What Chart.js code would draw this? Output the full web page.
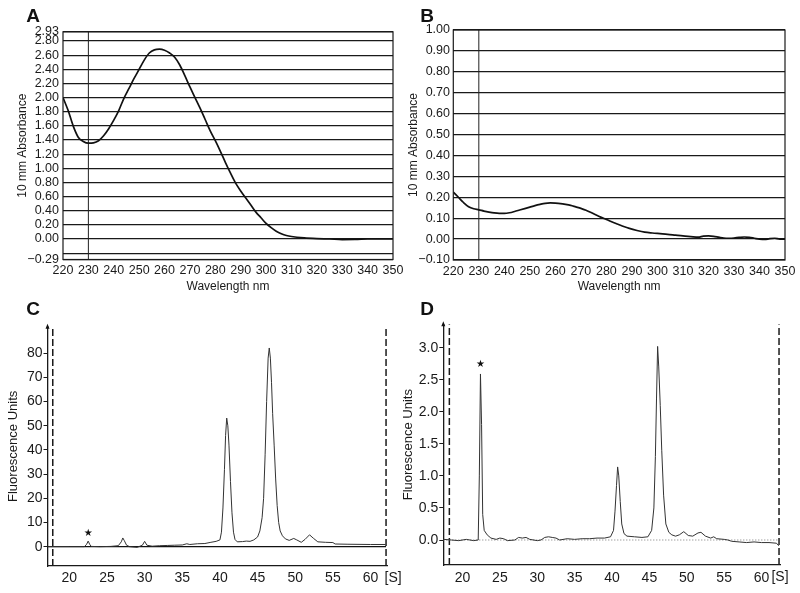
<!DOCTYPE html>
<html>
<head>
<meta charset="utf-8">
<script src="https://cdn.jsdelivr.net/npm/chart.js@4.4.1/dist/chart.umd.min.js"></script>
<style>
  html, body { margin: 0; padding: 0; background: #fff; }
  body { width: 800px; height: 593px; position: relative; overflow: hidden; }
  .panel { position: absolute; }
</style>
</head>
<body>
<div class="panel" style="left:0;top:0;width:415px;height:300px"><canvas id="chartA"></canvas></div>
<div class="panel" style="left:400px;top:0;width:400px;height:300px"><canvas id="chartB"></canvas></div>
<div class="panel" style="left:0;top:290px;width:410px;height:303px"><canvas id="chartC"></canvas></div>
<div class="panel" style="left:400px;top:290px;width:400px;height:303px"><canvas id="chartD"></canvas></div>
<script>
// spectra (A, B)
const wavelengthA = [220, 222, 224, 226, 228, 230, 232, 234, 236, 238, 240, 242, 244, 246, 248, 250, 252, 254, 256, 258,
  260, 262, 264, 266, 268, 270, 272, 274, 276, 278, 280, 282, 284, 286, 288, 290, 292, 294, 296, 298,
  300, 302, 304, 306, 308, 310, 315, 320, 325, 330, 335, 340, 345, 350];
const absorbanceA = [2.00, 1.82, 1.60, 1.44, 1.38, 1.355, 1.36, 1.39, 1.46, 1.56, 1.68, 1.82, 1.99, 2.13, 2.27, 2.40, 2.53, 2.63, 2.675, 2.685,
  2.67, 2.63, 2.57, 2.46, 2.31, 2.15, 2.00, 1.85, 1.69, 1.53, 1.39, 1.24, 1.08, 0.93, 0.79, 0.68, 0.58, 0.48, 0.38, 0.30,
  0.22, 0.16, 0.11, 0.075, 0.05, 0.035, 0.015, 0.005, 0.0, -0.008, -0.006, 0.0, 0.002, 0.0];

const wavelengthB = [220, 222, 224, 226, 228, 230, 232, 234, 236, 238, 240, 242, 244, 246, 248, 250, 252, 254, 256, 258,
  260, 262, 264, 266, 268, 270, 272, 274, 276, 278, 280, 283, 286, 289, 292, 295, 298, 301, 304, 307,
  310, 313, 316, 318, 320, 322, 324, 326, 328, 330, 332, 334, 336, 338, 340, 342, 344, 346, 348, 350];
const absorbanceB = [0.225, 0.20, 0.175, 0.155, 0.145, 0.14, 0.134, 0.129, 0.125, 0.123, 0.123, 0.126, 0.132, 0.139, 0.146, 0.153, 0.160, 0.166, 0.171, 0.173,
  0.172, 0.170, 0.166, 0.161, 0.154, 0.147, 0.138, 0.127, 0.115, 0.104, 0.094, 0.078, 0.064, 0.051, 0.041, 0.033, 0.029, 0.026, 0.023, 0.019,
  0.015, 0.012, 0.009, 0.014, 0.015, 0.013, 0.009, 0.005, 0.004, 0.005, 0.008, 0.010, 0.008, 0.004, 0.000, -0.002, 0.002, 0.004, 0.0, 0.0];

// electropherograms (C, D)
const timeC = [17.2, 20, 22.0, 22.3, 22.5, 22.7, 22.9, 24, 25.5, 26.5, 26.9, 27.1, 27.3, 27.6, 28, 29, 29.7, 30.0, 30.3, 31,
  32, 33, 34, 35, 35.6, 36, 37, 38, 38.8, 39.5, 40.0, 40.2, 40.4, 40.6, 40.75, 40.9, 41.05, 41.2, 41.4, 41.6,
  41.8, 42.0, 42.3, 43, 43.5, 44, 44.5, 45, 45.3, 45.6, 45.8, 46.0, 46.2, 46.4, 46.55, 46.7, 46.85, 47.0, 47.2, 47.4,
  47.6, 47.8, 48.0, 48.3, 48.7, 49.2, 49.8, 50.2, 50.8, 51.3, 51.9, 52.4, 53.0, 54, 55, 55.3, 57, 60, 62];
const fluorC = [0.0, 0.0, 0.0, 1.0, 2.3, 1.0, 0.1, 0.0, 0.1, 0.4, 2.0, 3.6, 2.5, 0.6, 0.0, -0.3, 0.6, 2.2, 0.6, 0.2,
  0.4, 0.5, 0.6, 0.7, 1.2, 0.9, 1.2, 1.3, 1.8, 2.2, 2.8, 6, 16, 32, 46, 53.2, 50, 42, 27, 14,
  6, 3, 2, 2.1, 2.3, 2.2, 2.8, 4, 6.5, 12, 20, 38, 60, 78, 82.2, 78, 68, 55, 42, 28,
  17, 10, 6.5, 4.5, 3.2, 2.6, 3.4, 2.8, 1.8, 3.0, 4.9, 3.5, 2.0, 1.8, 1.7, 1.1, 1.0, 0.9, 0.9];

const timeD = [17.5, 18.5, 19.5, 20.5, 21, 21.5, 22.1, 22.25, 22.4, 22.55, 22.7, 22.9, 23.3, 23.8, 24.5, 25, 25.5, 26, 27, 27.5,
  28, 28.5, 29, 30, 30.5, 31, 31.5, 32, 32.5, 33, 34, 35, 36, 37, 38, 39, 39.8, 40.2, 40.4, 40.6,
  40.75, 40.9, 41.1, 41.3, 41.6, 42, 43, 44, 44.8, 45.3, 45.6, 45.8, 45.95, 46.1, 46.25, 46.45, 46.65, 46.9, 47.2, 47.6,
  48, 48.5, 49.0, 49.6, 50.2, 50.8, 51.5, 51.9, 52.5, 53.2, 53.6, 54, 55, 55.5, 56, 57, 58, 59, 60, 61, 62, 62.3];
const fluorD = [0.01, 0.0, -0.01, 0.01, 0.0, -0.01, 0.0, 1.0, 2.59, 1.8, 0.4, 0.15, 0.08, 0.03, 0.01, 0.03, 0.02, -0.01, 0.0, 0.04,
  0.03, 0.04, 0.01, -0.01, 0.0, 0.04, 0.05, 0.04, 0.03, 0.0, 0.02, 0.01, 0.02, 0.02, 0.03, 0.03, 0.05, 0.15, 0.45, 0.85,
  1.14, 1.0, 0.6, 0.25, 0.1, 0.06, 0.05, 0.04, 0.05, 0.15, 0.5, 1.3, 2.2, 3.02, 2.7, 2.1, 1.4, 0.7, 0.25, 0.12,
  0.08, 0.06, 0.08, 0.13, 0.07, 0.06, 0.11, 0.12, 0.06, 0.03, 0.05, 0.02, 0.01, 0.0, -0.02, -0.03, -0.04, -0.03, -0.04, -0.04, -0.05, -0.09];

// ticks and markers
const xTicksAB = [220, 230, 240, 250, 260, 270, 280, 290, 300, 310, 320, 330, 340, 350];
const yTicksA = [-0.29, -0.2, 0, 0.2, 0.4, 0.6, 0.8, 1.0, 1.2, 1.4, 1.6, 1.8, 2.0, 2.2, 2.4, 2.6, 2.8, 2.93];
const yTicksB = [-0.1, 0, 0.1, 0.2, 0.3, 0.4, 0.5, 0.6, 0.7, 0.8, 0.9, 1.0];
const xTicksCD = [20, 25, 30, 35, 40, 45, 50, 55, 60];
const yTicksC = [0, 10, 20, 30, 40, 50, 60, 70, 80];
const yTicksD = [0, 0.5, 1.0, 1.5, 2.0, 2.5, 3.0];
const refWavelength = 230;
const markersC = [17.8, 62.06];
const markersD = [18.24, 62.34];
const starC = [22.5, 5.6];
const starD = [22.4, 2.74];

const FONT = '"Liberation Sans", Arial, Helvetica, sans-serif';
Chart.defaults.font.family = FONT;
Chart.defaults.color = '#1a1a1a';

const pts = (xs, ys) => xs.map((x, i) => ({ x: x, y: ys[i] }));
const vline = (x, y0, y1) => [{ x: x, y: y0 }, { x: x, y: y1 }];

const frame = {
  id: 'frame',
  afterDatasetsDraw(chart) {
    const a = chart.chartArea, ctx = chart.ctx;
    ctx.save();
    ctx.strokeStyle = '#1a1a1a';
    ctx.lineWidth = 1.2;
    ctx.strokeRect(a.left, a.top, a.right - a.left, a.bottom - a.top);
    ctx.restore();
  }
};

function letter(text, x, y) {
  return {
    id: 'letter',
    afterDraw(chart) {
      const ctx = chart.ctx;
      ctx.save();
      ctx.font = 'bold 19px ' + FONT;
      ctx.fillStyle = '#111';
      ctx.textAlign = 'center';
      ctx.textBaseline = 'middle';
      ctx.fillText(text, x, y);
      ctx.restore();
    }
  };
}

// arrow on the y axis, star over the marker peak, unit label after the last x tick
function axisExtras(star, unitDx) {
  return {
    id: 'axisExtras',
    afterDraw(chart) {
      const ctx = chart.ctx, a = chart.chartArea;
      const sx = chart.scales.x, sy = chart.scales.y;
      ctx.save();
      ctx.fillStyle = '#111';
      ctx.beginPath();
      ctx.moveTo(a.left, a.top - 3);
      ctx.lineTo(a.left - 2, a.top + 2);
      ctx.lineTo(a.left + 2, a.top + 2);
      ctx.closePath();
      ctx.fill();
      ctx.font = '10px "DejaVu Sans", sans-serif';
      ctx.textAlign = 'center';
      ctx.textBaseline = 'middle';
      ctx.fillText('\u2605', sx.getPixelForValue(star[0]), sy.getPixelForValue(star[1]));
      ctx.font = '14px ' + FONT;
      ctx.fillStyle = '#1a1a1a';
      ctx.fillText('[S]', a.right + unitDx, a.bottom + 12.5);
      ctx.restore();
    }
  };
}

const fmt2 = v => (v < 0 ? '\u2212' : '') + Math.abs(v).toFixed(2);

function spectrum(id, name, xs, ys, yMin, yMax, yTicks, box) {
  return new Chart(document.getElementById(id), {
    type: 'line',
    data: {
      datasets: [
        { data: pts(xs, ys), borderColor: '#111', borderWidth: 1.7, pointRadius: 0, cubicInterpolationMode: 'monotone' },
        { data: vline(refWavelength, yMin, yMax), borderColor: '#222', borderWidth: 1, pointRadius: 0 }
      ]
    },
    options: {
      responsive: true,
      maintainAspectRatio: false,
      animation: false,
      events: [],
      layout: { padding: { top: box.top, right: box.right, left: 0, bottom: 0 } },
      plugins: { legend: { display: false }, tooltip: { enabled: false } },
      scales: {
        x: {
          type: 'linear', min: 220, max: 350,
          afterBuildTicks: s => { s.ticks = xTicksAB.map(v => ({ value: v })); },
          afterFit: s => { s.height = box.xh; },
          grid: { display: false, drawTicks: false },
          border: { display: false },
          ticks: { font: { size: 12.5 }, padding: 4, maxRotation: 0, autoSkip: false },
          title: { display: true, text: 'Wavelength nm', font: { size: 12 }, padding: { top: 0, bottom: 5.8 } }
        },
        y: {
          min: yMin, max: yMax,
          afterBuildTicks: s => { s.ticks = yTicks.map(v => ({ value: v })); },
          afterFit: s => { s.width = box.yw; },
          grid: { color: '#1a1a1a', lineWidth: 1.2, drawTicks: false },
          border: { display: false },
          ticks: {
            font: { size: 12.5 }, padding: box.tp, autoSkip: false,
            callback: v => (Math.abs(v + 0.2) < 1e-9 && yMin < -0.2) ? '' : fmt2(v)
          },
          title: { display: true, text: '10 mm Absorbance', font: { size: 12 }, padding: { top: box.tt, bottom: 0 } }
        }
      }
    },
    plugins: [frame, letter(name, box.lx, box.ly)]
  });
}

function electropherogram(id, name, xs, ys, c) {
  return new Chart(document.getElementById(id), {
    type: 'line',
    data: {
      datasets: [
        { data: pts(xs, ys), borderColor: '#333', borderWidth: 1, pointRadius: 0, tension: 0 },
        { data: [{ x: c.xMin, y: 0 }, { x: c.markers[1], y: 0 }], borderColor: c.zeroColor, borderWidth: c.zeroWidth, borderDash: c.zeroDash, pointRadius: 0 },
        { data: vline(c.markers[0], c.yMin, c.yMax), borderColor: '#1a1a1a', borderWidth: 1.5, borderDash: [7, 3], pointRadius: 0 },
        { data: vline(c.markers[1], c.yMin, c.yMax), borderColor: '#1a1a1a', borderWidth: 1.5, borderDash: [7, 3], pointRadius: 0 }
      ]
    },
    options: {
      responsive: true,
      maintainAspectRatio: false,
      animation: false,
      events: [],
      layout: { padding: { top: c.top, right: c.right, left: 0, bottom: 0 } },
      plugins: { legend: { display: false }, tooltip: { enabled: false } },
      scales: {
        x: {
          type: 'linear', min: c.xMin, max: c.xMax,
          afterBuildTicks: s => { s.ticks = xTicksCD.map(v => ({ value: v })); },
          afterFit: s => { s.height = c.xh; },
          grid: { display: false, drawTicks: false },
          border: { display: true, color: '#1a1a1a', width: 1.3 },
          ticks: { font: { size: 14 }, padding: c.xp, maxRotation: 0, autoSkip: false }
        },
        y: {
          min: c.yMin, max: c.yMax,
          afterBuildTicks: s => { s.ticks = c.yTicks.map(v => ({ value: v })); },
          afterFit: s => { s.width = c.yw; },
          grid: { display: true, drawOnChartArea: false, drawTicks: true, tickLength: 4, color: '#1a1a1a', lineWidth: 1 },
          border: { display: true, color: '#1a1a1a', width: 1.3 },
          ticks: { font: { size: 14 }, padding: 1, autoSkip: false, callback: c.fmt },
          title: { display: true, text: 'Fluorescence Units', font: { size: 13 }, padding: { top: c.tt, bottom: 0 } }
        }
      }
    },
    plugins: [axisExtras(c.star, c.unitDx), letter(name, c.lx, c.ly)]
  });
}

spectrum('chartA', 'A', wavelengthA, absorbanceA, -0.29, 2.93, yTicksA,
  { top: 31.8, right: 22, xh: 40.5, yw: 63, tp: 4, tt: 15.8, lx: 33, ly: 17 });
spectrum('chartB', 'B', wavelengthB, absorbanceB, -0.1, 1.0, yTicksB,
  { top: 30, right: 15, xh: 40, yw: 53.3, tp: 3.3, tt: 6.1, lx: 27, ly: 17 });

electropherogram('chartC', 'C', timeC, fluorC, {
  xMin: 17.1, xMax: 62.2, yMin: -8, yMax: 91, yTicks: yTicksC, markers: markersC, star: starC,
  zeroColor: '#111', zeroWidth: 1.2, zeroDash: [],
  top: 36.7, right: 22.9, xh: 27, yw: 47.5, xp: 3.9, tt: 5.5, lx: 33, ly: 20, unitDx: 6,
  fmt: v => String(v)
});
electropherogram('chartD', 'D', timeD, fluorD, {
  xMin: 17.43, xMax: 62.47, yMin: -0.39, yMax: 3.365, yTicks: yTicksD, markers: markersD, star: starD,
  zeroColor: '#777', zeroWidth: 1, zeroDash: [1, 2],
  top: 34.3, right: 20, xh: 28, yw: 43.3, xp: 4.9, tt: 0.5, lx: 27, ly: 20, unitDx: 0,
  fmt: v => v.toFixed(1)
});
</script>
</body>
</html>
